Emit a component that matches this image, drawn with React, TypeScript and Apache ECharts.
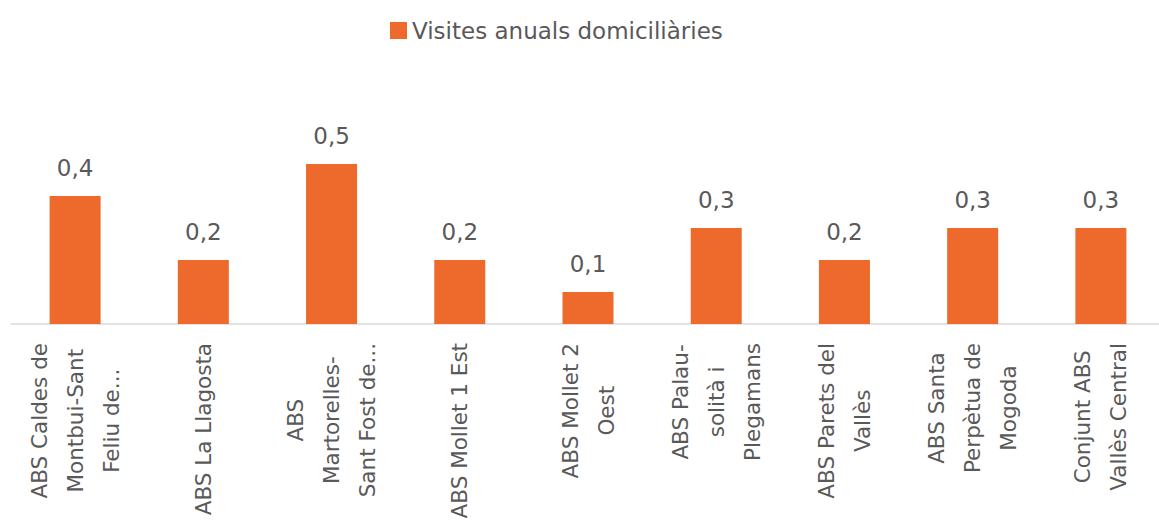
import React, { useEffect, useRef } from "react";
import * as echarts from "echarts";

const categories: string[] = [
  "ABS Caldes de\nMontbui-Sant\nFeliu de...",
  "ABS La Llagosta",
  "ABS\nMartorelles-\nSant Fost de...",
  "ABS Mollet 1 Est",
  "ABS Mollet 2\nOest",
  "ABS Palau-\nsolità i\nPlegamans",
  "ABS Parets del\nVallès",
  "ABS Santa\nPerpètua de\nMogoda",
  "Conjunt ABS\nVallès Central",
];
const seriesName = "Visites anuals domiciliàries";
const values: number[] = [0.4, 0.2, 0.5, 0.2, 0.1, 0.3, 0.2, 0.3, 0.3];

const FONT = "'DejaVu Sans', sans-serif";
const TEXT = "#595959";
const FS = 23;
const AXIS_FS = 21.5;

export default function App() {
  const ref = useRef<HTMLDivElement>(null);
  useEffect(() => {
    if (!ref.current) return;
    const chart = echarts.init(ref.current, null, { renderer: "svg" });
    chart.setOption({
      animation: false,
      textStyle: { fontFamily: FONT },
      legend: {
        data: [seriesName],
        left: 385,
        top: 14,
        itemWidth: 17,
        itemHeight: 17,
        icon: "rect",
        textStyle: { fontSize: FS, color: TEXT, fontFamily: FONT },
      },
      grid: { left: 11, right: -6, top: 132, bottom: 199, outerBoundsMode: "none", containLabel: false },
      xAxis: {
        type: "category",
        data: categories,
        axisLine: { lineStyle: { color: "#d9d9d9", width: 1.5 } },
        axisTick: { show: false },
        axisLabel: {
          rotate: 90,
          interval: 0,
          fontSize: AXIS_FS,
          lineHeight: 36,
          color: TEXT,
          fontFamily: FONT,
          margin: 19,
          formatter: (v: string) =>
            v
              .split("\n")
              .map((l) => `{c|${l}}`)
              .join("\n"),
          rich: {
            c: {
              align: "center",
              fontSize: AXIS_FS,
              lineHeight: 36,
              color: TEXT,
              fontFamily: FONT,
            },
          },
        },
      },
      yAxis: {
        type: "value",
        min: 0,
        max: 0.6,
        show: false,
        splitLine: { show: false },
      },
      series: [
        {
          name: seriesName,
          type: "bar",
          data: values,
          barWidth: 51,
          itemStyle: { color: "#EE6A2C" },
          label: {
            show: true,
            position: "top",
            distance: 17,
            fontSize: FS,
            color: TEXT,
            fontFamily: FONT,
            formatter: (p: any) => p.value.toFixed(1).replace(".", ","),
          },
        },
      ],
    });
    return () => chart.dispose();
  }, []);
  return <div ref={ref} style={{ width: 1159, height: 523, position: "absolute", left: 0, top: 0 }} />;
}
